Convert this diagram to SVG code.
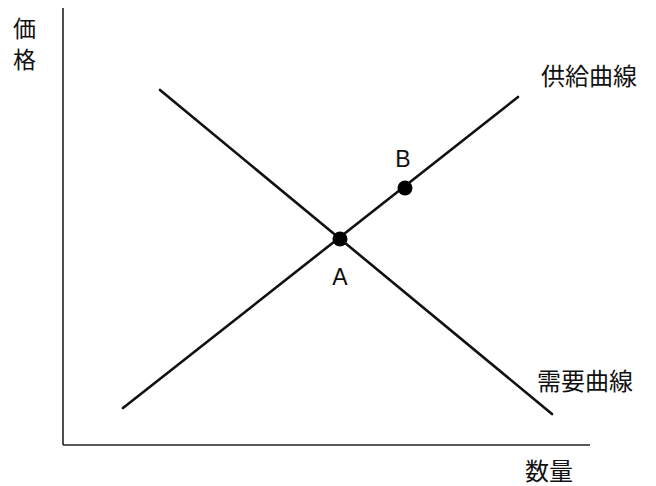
<svg xmlns="http://www.w3.org/2000/svg" width="656" height="486" viewBox="0 0 656 486">
<style>
.ax{stroke:#222;stroke-width:1.6;fill:none}
.cv{stroke:#111;stroke-width:2.6;fill:none;stroke-linecap:round}
.jp{font-family:"Noto Sans CJK JP","Noto Sans CJK SC",sans-serif;font-size:24px;fill:#111}
.lt{font-family:"Liberation Sans",Arial,sans-serif;font-size:23px;fill:#111;text-anchor:middle}
.pt{fill:#000}
</style>
<rect width="656" height="486" fill="#fff"/>
<g id="axes">
<line class="ax" x1="63" y1="8" x2="63" y2="445"/>
<line class="ax" x1="63" y1="445" x2="590" y2="445"/>
<text class="jp" x="13" y="37" style="font-size:23px">価</text>
<text class="jp" x="13" y="68" style="font-size:23px">格</text>
<text class="jp" x="525" y="480">数量</text>
</g>
<g id="connectors">
<line id="supply" class="cv" x1="123" y1="408" x2="518" y2="97"/>
<line id="demand" class="cv" x1="160" y1="90" x2="552" y2="414"/>
</g>
<g id="supply-label"><text class="jp" x="541" y="85">供給曲線</text></g>
<g id="demand-label"><text class="jp" x="537" y="390">需要曲線</text></g>
<g id="pointA"><circle class="pt" cx="340" cy="239" r="7.5"/><text class="lt" x="340" y="285">A</text></g>
<g id="pointB"><circle class="pt" cx="405" cy="188" r="7.5"/><text class="lt" x="403" y="167">B</text></g>
</svg>
